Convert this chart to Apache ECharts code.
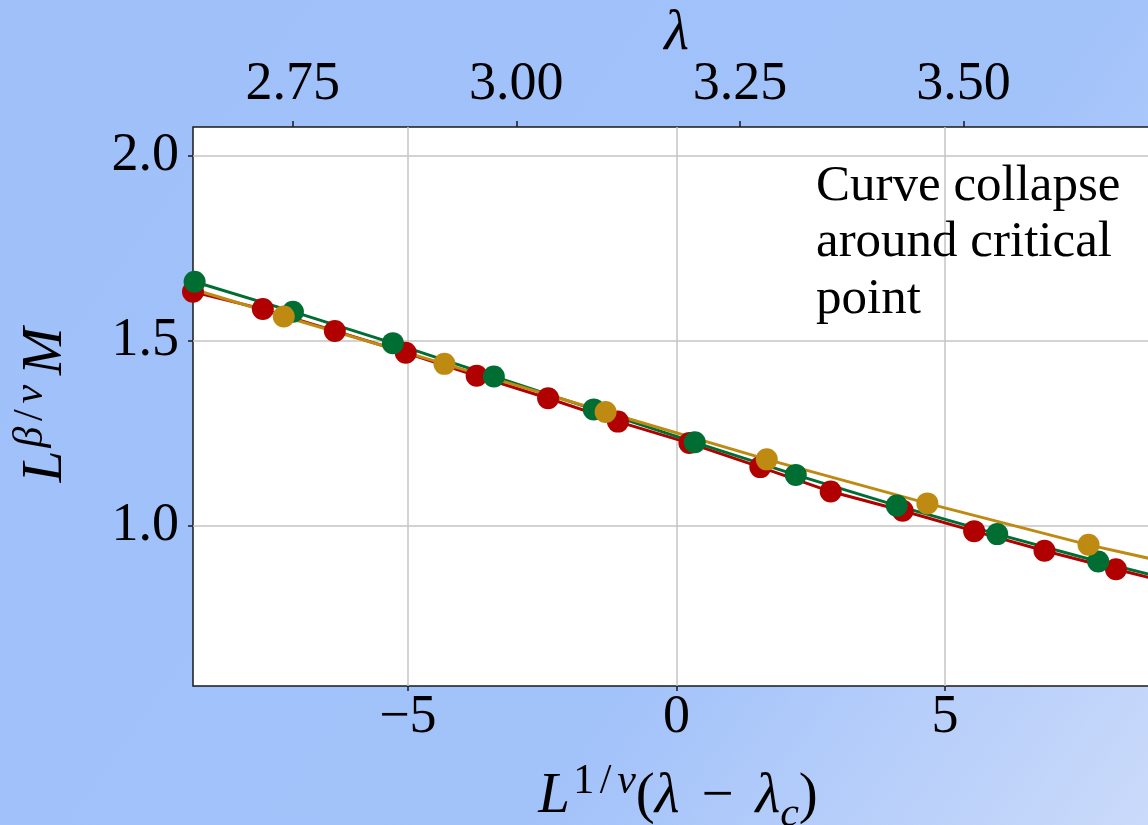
<!doctype html>
<html>
<head>
<meta charset="utf-8">
<title>Curve collapse</title>
<script src="https://cdn.jsdelivr.net/npm/echarts@6/dist/echarts.min.js"></script>
<style>
  html, body { margin: 0; padding: 0; }
  #chart { width: 1148px; height: 825px; }
</style>
</head>
<body>
<div id="chart"></div>
<script>
  // scaled data: x = L^{1/nu}(lambda - lambda_c), y = L^{beta/nu} M
  var redX = [-9.0, -7.70, -6.36, -5.04, -3.72, -2.39, -1.09, 0.24, 1.56, 2.87, 4.21, 5.54, 6.85, 8.18, 9.50];
  var redY = [1.633, 1.586, 1.527, 1.468, 1.406, 1.345, 1.282, 1.224, 1.159, 1.093, 1.041, 0.986, 0.933, 0.883, 0.835];

  var greenX = [-8.97, -7.14, -5.28, -3.40, -1.54, 0.34, 2.22, 4.10, 5.97, 7.85, 9.72];
  var greenY = [1.660, 1.579, 1.494, 1.404, 1.315, 1.226, 1.138, 1.055, 0.978, 0.904, 0.836];

  var goldX = [-10.31, -7.31, -4.32, -1.32, 1.68, 4.67, 7.67, 10.66];
  var goldY = [1.697, 1.566, 1.438, 1.308, 1.180, 1.061, 0.949, 0.852];

  var xTicks = [-5, 0, 5];
  var yTicks = [1.0, 1.5, 2.0];
  var lambdaTicks = [2.75, 3.00, 3.25, 3.50];

  var serif = '"Liberation Serif", "DejaVu Serif", serif';

  var chart = echarts.init(document.getElementById('chart'));

  function pairs(xs, ys) {
    return xs.map(function (x, i) { return [x, ys[i]]; });
  }

  function lineSeries(name, xs, ys, color) {
    return {
      name: name,
      type: 'line',
      data: pairs(xs, ys),
      symbol: 'circle',
      symbolSize: 22,
      showSymbol: true,
      clip: true,
      lineStyle: { color: color, width: 3 },
      itemStyle: { color: color },
      emphasis: { disabled: true }
    };
  }

  function minusFmt(v) {
    return v < 0 ? '\u2212' + Math.abs(v) : String(v);
  }

  // rich styles for the LaTeX-like axis names
  function tok(size, italic, padBottom, extra) {
    var s = {
      fontFamily: serif, fontStyle: italic ? 'italic' : 'normal', fontSize: size, color: '#000',
      lineHeight: 70, verticalAlign: 'bottom', padding: [0, 0, padBottom, 0]
    };
    return Object.assign(s, extra || {});
  }
  var mathRich = {
    i: tok(57, true, 10),
    iL: tok(57, true, 10, { width: 38 }),
    n: tok(57, false, 10),
    op: tok(57, false, 10, { width: 76, align: 'center' }),
    sup: tok(42, false, 33),
    sl: tok(42, false, 33, { width: 23, align: 'center' }),
    supi: tok(42, true, 33),
    subi: tok(42, true, 0),
    sp: tok(57, false, 10, { width: 10 })
  };

  var tickLabel = { fontFamily: serif, fontSize: 54, color: '#000' };

  var option = {
    animation: false,
    backgroundColor: {
      type: 'linear', x: 0, y: 0, x2: 1, y2: 1,
      colorStops: [
        { offset: 0, color: '#a0c0fa' },
        { offset: 0.64, color: '#a2c2fa' },
        { offset: 1, color: '#cadafa' }
      ]
    },
    title: {
      text: 'Curve collapse\naround critical\npoint',
      left: 816,
      top: 158,
      padding: 0,
      textStyle: { fontFamily: serif, fontSize: 51, lineHeight: 56.5, fontWeight: 'normal', color: '#000' }
    },
    grid: {
      left: 193, top: 127, right: -12, bottom: 139,
      show: true,
      backgroundColor: '#fff',
      borderColor: '#1a1a1a',
      borderWidth: 1.5,
      outerBoundsMode: 'none'
    },
    xAxis: [{
      type: 'value',
      position: 'bottom',
      min: -9, max: 9,
      name: '{iL|L}{sup|1}{sl|/}{supi|\u03bd}{n|(}{i|\u03bb}{op|\u2212}{i|\u03bb}{subi|c}{n|)}',
      nameLocation: 'middle',
      nameGap: 80,
      nameMoveOverlap: false,
      nameTextStyle: { rich: mathRich },
      axisLine: { show: false, onZero: false },
      axisTick: { show: true, length: 5, lineStyle: { color: '#1a1a1a', width: 1.5 }, customValues: xTicks },
      axisLabel: Object.assign({ margin: 5, customValues: xTicks, formatter: minusFmt }, tickLabel),
      splitLine: { show: true, lineStyle: { color: '#c4c4c4', width: 1.5 } }
    }, {
      type: 'value',
      position: 'top',
      min: 2.6385, max: 3.7197,
      name: '\u03bb',
      nameLocation: 'middle',
      nameGap: 64,
      nameMoveOverlap: false,
      nameTextStyle: { fontFamily: serif, fontStyle: 'italic', fontSize: 57, color: '#000' },
      axisLine: { show: false, onZero: false },
      axisTick: { show: true, length: 6, lineStyle: { color: '#1a1a1a', width: 1.5 }, customValues: lambdaTicks },
      axisLabel: Object.assign({ margin: 15, customValues: lambdaTicks, formatter: function (v) { return v.toFixed(2); } }, tickLabel),
      splitLine: { show: false }
    }],
    yAxis: {
      type: 'value',
      min: 0.5676, max: 2.078,
      name: '{iL|L}{supi|\u03b2}{sl|/}{supi|\u03bd}{sp| }{i|M}',
      nameLocation: 'middle',
      nameRotate: 90,
      nameGap: 108,
      nameMoveOverlap: false,
      nameTextStyle: { rich: mathRich },
      axisLine: { show: false, onZero: false },
      axisTick: { show: true, length: 5, lineStyle: { color: '#1a1a1a', width: 1.5 }, customValues: yTicks },
      axisLabel: Object.assign({ margin: 14, customValues: yTicks, formatter: function (v) { return v.toFixed(1); } }, tickLabel),
      splitLine: { show: true, lineStyle: { color: '#c4c4c4', width: 1.5 } }
    },
    series: [
      lineSeries('red', redX, redY, '#b00000'),
      lineSeries('green', greenX, greenY, '#006d32'),
      lineSeries('gold', goldX, goldY, '#bf8a12')
    ]
  };

  chart.setOption(option);
</script>
</body>
</html>
